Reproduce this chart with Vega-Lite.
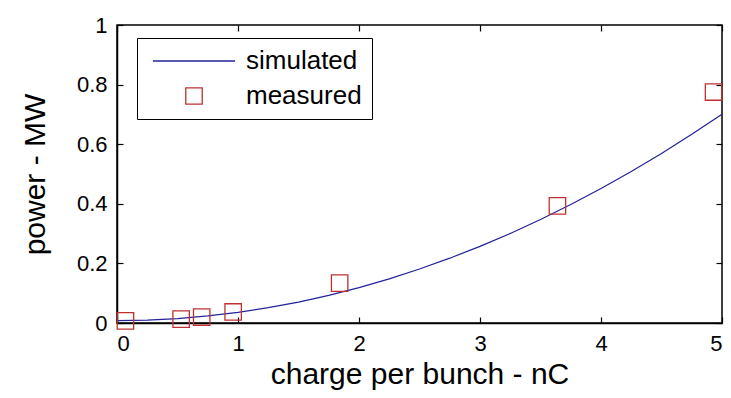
{
  "$schema": "https://vega.github.io/schema/vega-lite/v6.json",
  "autosize": "none",
  "width": 605,
  "height": 298,
  "padding": {"left": 117, "top": 25, "right": 9, "bottom": 75},
  "background": "white",
  "config": {
    "view": {"stroke": "black", "strokeWidth": 1.5},
    "font": "Liberation Sans",
    "axis": {"grid": false, "domainColor": "black", "tickColor": "black", "labelColor": "black", "titleColor": "black", "labelFont": "Liberation Sans", "titleFont": "Liberation Sans", "titleFontWeight": "normal", "labelFontSize": 22, "titleFontSize": 30, "tickSize": -6, "tickWidth": 1.2, "domainWidth": 1.5}
  },
  "datasets": {
    "sim": [
      {"q": 0, "p": 0.008}, {"q": 0.25, "p": 0.0097}, {"q": 0.5, "p": 0.0149}, {"q": 0.75, "p": 0.0236},
      {"q": 1, "p": 0.0357}, {"q": 1.25, "p": 0.0513}, {"q": 1.5, "p": 0.0703}, {"q": 1.75, "p": 0.0928},
      {"q": 2, "p": 0.1188}, {"q": 2.25, "p": 0.1482}, {"q": 2.5, "p": 0.1811}, {"q": 2.75, "p": 0.2175},
      {"q": 3, "p": 0.2573}, {"q": 3.25, "p": 0.3006}, {"q": 3.5, "p": 0.3473}, {"q": 3.75, "p": 0.3975},
      {"q": 4, "p": 0.4512}, {"q": 4.25, "p": 0.5083}, {"q": 4.5, "p": 0.5689}, {"q": 4.75, "p": 0.633},
      {"q": 5, "p": 0.7005}
    ],
    "meas": [
      {"q": 0.07, "p": 0.007}, {"q": 0.53, "p": 0.013}, {"q": 0.7, "p": 0.02}, {"q": 0.96, "p": 0.037},
      {"q": 1.84, "p": 0.134}, {"q": 3.64, "p": 0.393}, {"q": 4.93, "p": 0.775}
    ]
  },
  "layer": [
    {
      "data": {"name": "sim"},
      "transform": [{"calculate": "'simulated'", "as": "series"}],
      "mark": {"type": "line", "strokeWidth": 1.2, "clip": true},
      "encoding": {
        "x": {"field": "q", "type": "quantitative", "scale": {"domain": [0, 5], "nice": false}, "axis": {"values": [0, 1, 2, 3, 4, 5], "format": "~g", "labelPadding": 16, "title": "charge per bunch - nC", "titlePadding": 5}},
        "y": {"field": "p", "type": "quantitative", "scale": {"domain": [0, 1], "nice": false}, "axis": {"values": [0, 0.2, 0.4, 0.6, 0.8, 1], "format": "~g", "labelPadding": 16, "title": "power - MW", "titlePadding": 26}},
        "color": {"field": "series", "type": "nominal", "scale": {"domain": ["simulated", "measured"], "range": ["#22229a", "#c03030"]},
          "legend": {"orient": "none", "legendX": 20, "legendY": 13, "title": null, "labelFontSize": 26, "labelFont": "Liberation Sans", "labelColor": "black", "strokeColor": "black", "fillColor": "white", "padding": 10, "rowPadding": 9, "symbolOffset": 34, "labelOffset": 39, "symbolSize": 270, "symbolStrokeWidth": 1.3, "symbolOpacity": 1}}
      }
    },
    {
      "data": {"name": "meas"},
      "transform": [{"calculate": "'measured'", "as": "series"}],
      "mark": {"type": "point", "filled": false, "strokeWidth": 1.3, "opacity": 1, "size": 270},
      "encoding": {
        "x": {"field": "q", "type": "quantitative", "axis": {"orient": "top", "values": [0, 1, 2, 3, 4, 5], "labels": false, "title": null, "domain": false}},
        "y": {"field": "p", "type": "quantitative", "axis": {"orient": "right", "values": [0, 0.2, 0.4, 0.6, 0.8, 1], "labels": false, "title": null, "domain": false}},
        "color": {"field": "series", "type": "nominal", "scale": {"domain": ["simulated", "measured"], "range": ["#22229a", "#c03030"]},
          "legend": {"orient": "none", "legendX": 20, "legendY": 13, "title": null, "labelFontSize": 26, "labelFont": "Liberation Sans", "labelColor": "black", "strokeColor": "black", "fillColor": "white", "padding": 10, "rowPadding": 9, "symbolOffset": 34, "labelOffset": 39, "symbolSize": 270, "symbolStrokeWidth": 1.3, "symbolOpacity": 1}},
        "shape": {"field": "series", "type": "nominal", "scale": {"domain": ["simulated", "measured"], "range": ["M-5,0H5", "square"]}}
      }
    }
  ],
  "resolve": {"axis": {"x": "independent", "y": "independent"}}
}
